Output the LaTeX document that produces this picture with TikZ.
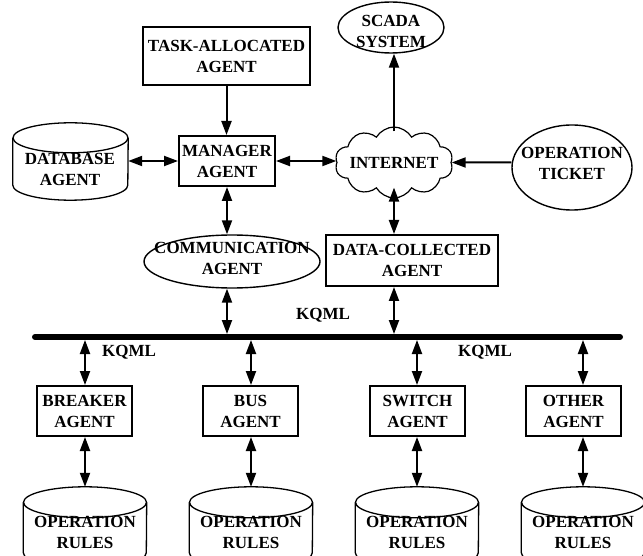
\documentclass[tikz,border=0pt]{standalone}
\usepackage{fontspec}
\setmainfont{Liberation Serif}
\usetikzlibrary{arrows.meta,shapes.geometric,shapes.symbols}

\begin{document}
\begin{tikzpicture}[x=1pt,y=-1pt,
  lbl/.style={font=\fontsize{17}{21}\selectfont\bfseries, align=center, inner sep=0pt},
  agentbox/.style={draw, line width=2pt, lbl},
  oval/.style={draw, ellipse, line width=1.4pt, inner sep=0pt},
  tip/.tip={Triangle[length=14pt,width=10pt]},
  link/.style={line width=2pt, -tip},
  dlink/.style={line width=2pt, tip-tip},
  busline/.style={line width=6pt, line cap=round},
  drumline/.style={line width=1.3pt},
  drumbody/.style={minimum width=#1, minimum height=81pt, inner sep=0pt}
]
\useasboundingbox (0,0) rectangle (643,556);
\clip (0,0) rectangle (643,556);

% ---- upper level ----
\node[agentbox, minimum width=167pt, minimum height=58pt] (task) at (226.5,56) {TASK-ALLOCATED\\AGENT};
\node[agentbox, minimum width=96pt, minimum height=50pt] (mgr) at (227,161) {MANAGER\\AGENT};

\node[oval, minimum width=106pt, minimum height=51pt] (scada) at (391,27.5) {};
\node[lbl] at (scada) [yshift=-4pt] {SCADA\\SYSTEM};

% the cloud text is set separately so that the cloud keeps its own size
\node[cloud, draw, cloud puffs=10, cloud puff arc=120, cloud ignores aspect,
      minimum width=118pt, minimum height=71pt,
      line width=1.2pt, inner sep=0pt] (net) at (394,162.5) {};
\node[lbl] at (net) {INTERNET};

\node[oval, minimum width=120pt, minimum height=85pt] (ticket) at (572,167.5) {};
\node[lbl] at (572,163) {OPERATION\\TICKET};

% database drum
\node[drumbody=115pt, minimum height=77pt] (db) at (70.5,161.5) {};
\draw[drumline] ([yshift=-15pt]db.north west) -- ([yshift=15pt]db.south west)
  arc[start angle=180, end angle=360, x radius=57.5pt, y radius=15pt]
  -- ([yshift=-15pt]db.north east);
\draw[drumline] ([yshift=-15pt]db.north) ellipse [x radius=57.5pt, y radius=15pt];
\node[lbl] at (70,169) {DATABASE\\AGENT};

% ---- middle level ----
\node[oval, minimum width=176pt, minimum height=53pt] (comm) at (232,261.5) {};
\node[lbl] at (232,258) {COMMUNICATION\\AGENT};
\node[agentbox, minimum width=172pt, minimum height=51pt] (dc) at (412,260.5) {DATA-COLLECTED\\AGENT};

% ---- bus ----
\coordinate (busL) at (35,337);
\coordinate (busR) at (620,337);
\draw[busline] (busL) -- (busR);
\node[lbl] (kq1) at (323,315) {KQML};
\node[lbl] (kq2) at (129,352) {KQML};
\node[lbl] (kq3) at (485,352) {KQML};

% ---- upper connectors ----
\draw[link] (task.south) -- (task.south |- mgr.north);
\draw[dlink] (mgr.west) -- (mgr.west -| db.east);
\draw[dlink] (mgr.east) -- (mgr.east -| net.west);
\draw[link] (ticket.west |- net) -- (net.east);
\draw[link] ([yshift=-5pt]net.north) -- (net.north |- scada.south);
\draw[dlink] (mgr.south) -- (mgr.south |- comm.north);
\draw[dlink] ([yshift=11pt]net.south) -- (net.south |- dc.north);

\coordinate (tapc) at (227,334);
\coordinate (tapd) at (394,334);
\draw[dlink] (comm.south -| tapc) -- (tapc);
\draw[dlink] (dc.south -| tapd) -- (tapd);

% ---- lower agents and their rule bases ----
\foreach \n/\t/\bx/\ax in {brk/BREAKER/84.5/85, bs/BUS/250.5/251, sw/SWITCH/417.5/417, oth/OTHER/573.5/583}{
  \node[agentbox, minimum width=95pt, minimum height=50pt] (\n) at (\bx,411) {\t\\AGENT};
  \coordinate (tap\n) at (\ax,340);
  \draw[dlink] (tap\n) -- (tap\n |- \n.north);
  \node[drumbody=123pt] (rule\n) at (\ax,527.5) {};
  \draw[drumline] ([yshift=-15.5pt]rule\n.north west) -- ([yshift=15.5pt]rule\n.south west)
    arc[start angle=180, end angle=360, x radius=61.5pt, y radius=15.5pt]
    -- ([yshift=-15.5pt]rule\n.north east);
  \draw[drumline] ([yshift=-15.5pt]rule\n.north) ellipse [x radius=61.5pt, y radius=15.5pt];
  \node[lbl] at (\ax,532) {OPERATION\\RULES};
  \draw[dlink] (rule\n.north |- \n.south) -- (rule\n.north);
}
\end{tikzpicture}
\end{document}
